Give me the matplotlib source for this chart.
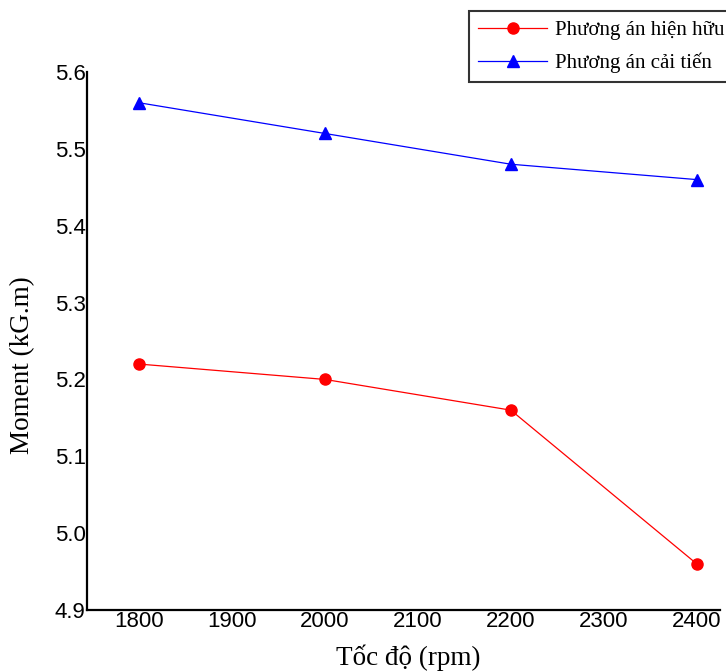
import matplotlib
matplotlib.use("Agg")
import matplotlib.pyplot as plt

speed = [1800, 2000, 2200, 2400]
moment_current = [5.22, 5.20, 5.16, 4.96]
moment_improved = [5.56, 5.52, 5.48, 5.46]
label_current = "Phương án hiện hữu"
label_improved = "Phương án cải tiến"
xticks = [1800, 1900, 2000, 2100, 2200, 2300, 2400]
yticks = [4.9, 5.0, 5.1, 5.2, 5.3, 5.4, 5.5, 5.6]

W, H = 726, 671
fig = plt.figure(figsize=(W / 100, H / 100), dpi=100)
ax = fig.add_axes([87 / W, 1 - 610 / H, (720 - 87) / W, (610 - 72) / H])

ax.plot(speed, moment_current, color="#ff0000", lw=0.9, marker="o", ms=8,
        label=label_current)
ax.plot(speed, moment_improved, color="#0000ff", lw=0.9, marker="^", ms=9,
        label=label_improved)

ax.set_xlim(1744, 2425)
ax.set_ylim(4.9, 5.6)
ax.set_xticks(xticks)
ax.set_yticks(yticks)
ax.set_yticklabels([f"{v:.1f}" for v in yticks])

for s in ("top", "right"):
    ax.spines[s].set_visible(False)
for s in ("left", "bottom"):
    ax.spines[s].set_linewidth(1.6)
    ax.spines[s].set_color("black")

ax.tick_params(axis="both", length=0, labelsize=16,
               labelfontfamily="Liberation Sans")
ax.tick_params(axis="y", pad=1)
ax.tick_params(axis="x", pad=1)

ax.set_xlabel("Tốc độ (rpm)", fontsize=19.5, family="Liberation Serif")
ax.set_ylabel("Moment (kG.m)", fontsize=19.5, family="Liberation Serif")
# place axis labels in figure pixel positions
to_ax = ax.transAxes.inverted()
xl = to_ax.transform((408, H - 658))
yl = to_ax.transform((23, H - 365))
ax.xaxis.set_label_coords(xl[0], xl[1])
ax.xaxis.label.set_va("center")
ax.yaxis.set_label_coords(yl[0], yl[1])
ax.yaxis.label.set_va("center")

leg = ax.legend(loc="upper left", bbox_to_anchor=(469 / W, 1 - 11 / H),
                bbox_transform=fig.transFigure, frameon=True, fancybox=False,
                handlelength=3.3, handletextpad=0.4, borderpad=0.45,
                labelspacing=0.6, borderaxespad=0,
                prop={"family": "Liberation Serif", "size": 15})
leg.get_frame().set_edgecolor("black")
leg.get_frame().set_linewidth(1.5)

fig.savefig("out.png", dpi=100)
